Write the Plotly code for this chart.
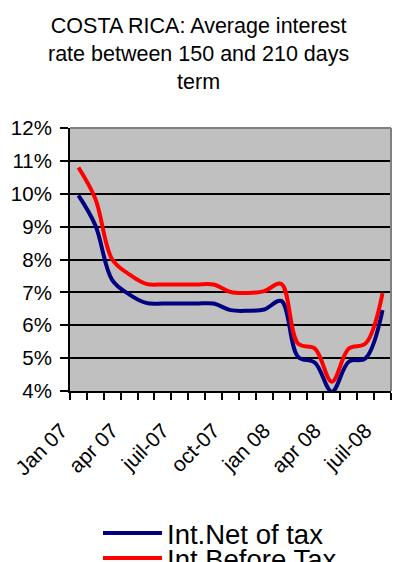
import plotly.graph_objects as go

# Monthly categories, Jan 2007 to Jul 2008
months = ["Jan 07", "feb 07", "mar 07", "apr 07", "may 07", "jun 07", "juil-07",
          "aug 07", "sep 07", "oct-07", "nov 07", "dec 07", "jan 08", "feb 08",
          "mar 08", "apr 08", "may 08", "jun 08", "juil-08"]
tick_labels = ["Jan 07", "apr 07", "juil-07", "oct-07", "jan 08", "apr 08", "juil-08"]

# Average interest rate (%), 150-210 days term
net_of_tax = [9.95, 9.04, 7.37, 6.94, 6.68, 6.66, 6.66, 6.66, 6.66, 6.46,
              6.44, 6.48, 6.74, 5.04, 4.86, 3.98, 4.89, 5.00, 6.46]
before_tax = [10.80, 9.85, 8.00, 7.55, 7.26, 7.24, 7.24, 7.24, 7.24, 7.01,
              6.98, 7.04, 7.26, 5.44, 5.29, 4.28, 5.29, 5.45, 6.98]

x_idx = list(range(len(months)))
tick_pos = [months.index(m) for m in tick_labels]

FONT = "Liberation Sans, Arial, sans-serif"
NAVY = "#000080"
RED = "#FF0000"

# figure geometry (pixels) used to place the title and legend in paper units
W, H = 393, 562
ML, MR, MT, MB = 70, 2, 128, 171
PW, PH = W - ML - MR, H - MT - MB


def px_x(px):
    return (px - ML) / PW


def px_y(py):
    return (H - MB - py) / PH


fig = go.Figure()
fig.add_trace(go.Scatter(x=x_idx, y=net_of_tax, mode="lines", name="Int.Net of tax",
                         line=dict(color=NAVY, width=4, shape="spline", smoothing=1.0),
                         showlegend=False, hoverinfo="skip"))
fig.add_trace(go.Scatter(x=x_idx, y=before_tax, mode="lines", name="Int.Before Tax",
                         line=dict(color=RED, width=4, shape="spline", smoothing=1.0),
                         showlegend=False, hoverinfo="skip"))

legend_rows = [("Int.Net of tax", NAVY, 533), ("Int.Before Tax", RED, 558)]

shapes = [
    # plot-area border (top and right edges)
    dict(type="line", xref="paper", yref="paper", x0=0, x1=1, y0=1, y1=1,
         line=dict(color="#808080", width=2), layer="above"),
    dict(type="line", xref="paper", yref="paper", x0=1, x1=1, y0=0, y1=1,
         line=dict(color="#808080", width=2), layer="above"),
]
annotations = [
    dict(text="COSTA RICA: Average interest<br>rate between 150 and 210 days<br>term",
         xref="paper", yref="paper", x=px_x(198), y=px_y(12),
         xanchor="center", yanchor="top", showarrow=False, align="center",
         font=dict(size=21.5, family=FONT, color="black")),
]
for label, color, row_y in legend_rows:
    shapes.append(dict(type="line", xref="paper", yref="paper",
                       x0=px_x(103), x1=px_x(162), y0=px_y(row_y), y1=px_y(row_y),
                       line=dict(color=color, width=4)))
    annotations.append(dict(text=label, xref="paper", yref="paper",
                            x=px_x(165), y=px_y(row_y + 1),
                            xanchor="left", yanchor="middle", showarrow=False,
                            font=dict(size=27.5, family=FONT, color="black")))

fig.update_layout(
    width=W, height=H,
    margin=dict(l=ML, r=MR, t=MT, b=MB),
    paper_bgcolor="white",
    plot_bgcolor="#C0C0C0",
    font=dict(family=FONT, color="black"),
    xaxis=dict(
        range=[-0.5, len(months) - 0.5],
        tickmode="array", tickvals=tick_pos, ticktext=tick_labels,
        tickangle=-45, tickfont=dict(size=21, family=FONT),
        ticks="", showgrid=False, zeroline=False,
        ticklabelshift=-17, ticklabelstandoff=17,
        showline=True, linecolor="black", linewidth=2,
        minor=dict(tick0=-0.5, dtick=1, ticks="outside", ticklen=7,
                   tickwidth=2, tickcolor="black", showgrid=False),
        fixedrange=True,
    ),
    yaxis=dict(
        range=[4, 12], dtick=1, ticksuffix="%",
        tickfont=dict(size=20.5, family=FONT),
        ticks="outside", ticklen=8, tickwidth=2, tickcolor="black",
        ticklabelstandoff=4,
        showgrid=True, gridcolor="black", gridwidth=2,
        zeroline=False, showline=True, linecolor="black", linewidth=2,
        fixedrange=True,
    ),
    shapes=shapes,
    annotations=annotations,
)

fig.write_html("out.html", config={"displayModeBar": False})
